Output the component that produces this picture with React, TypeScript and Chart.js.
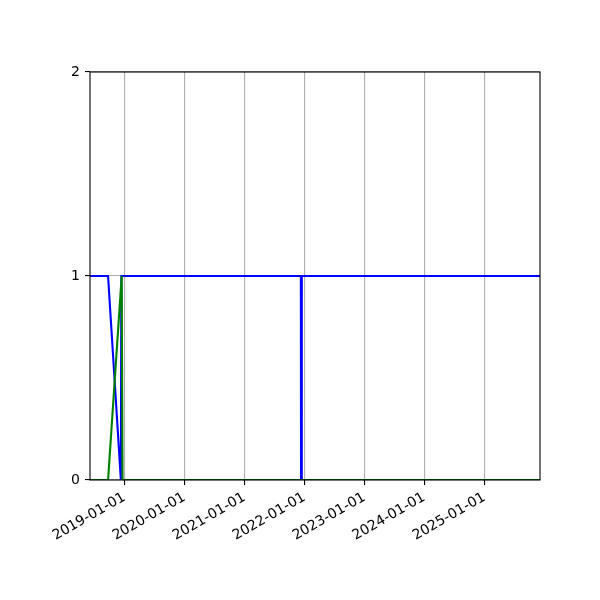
import { useEffect, useRef } from 'react'
import { Chart, registerables } from 'chart.js'
import type { Plugin } from 'chart.js'

Chart.register(...registerables)

const X_MIN = '2018-06-06'
const X_MAX = '2025-12-06'
const TICK_LABELS = ['2019-01-01', '2020-01-01', '2021-01-01', '2022-01-01', '2023-01-01', '2024-01-01', '2025-01-01']
const Y_TICKS = [0, 1, 2]

const BLUE_DATES = ['2018-06-06', '2018-09-24', '2018-12-11', '2018-12-14', '2021-12-11', '2021-12-12', '2021-12-16', '2021-12-17', '2025-12-06']
const BLUE_VALUES = [1, 1, 0, 1, 1, 0, 0, 1, 1]

const GREEN_DATES = ['2018-06-06', '2018-09-24', '2018-12-16', '2018-12-21', '2025-12-06']
const GREEN_VALUES = [0, 0, 1, 0, 0]

const FONT = { family: "'DejaVu Sans', sans-serif", size: 14 }
const GRID = '#b0b0b0'

const toPoints = (dates: string[], values: number[]) =>
  dates.map((d, i) => ({ x: Date.parse(d), y: values[i] }))

const tickValues = TICK_LABELS.map((l) => Date.parse(l))

// matplotlib draws spines over the lines
const frame: Plugin = {
  id: 'frame',
  afterDatasetsDraw(chart) {
    const { ctx, chartArea: a } = chart
    ctx.save()
    ctx.strokeStyle = '#000'
    ctx.lineWidth = 1.1
    ctx.strokeRect(a.left, a.top, a.right - a.left, a.bottom - a.top)
    ctx.restore()
  },
}

function DateChart() {
  const canvasRef = useRef<HTMLCanvasElement>(null)
  const chartRef = useRef<Chart | null>(null)

  useEffect(() => {
    const el = canvasRef.current
    if (!el) return
    try { chartRef.current?.destroy() } catch { /* noop */ }
    chartRef.current = new Chart(el, {
      type: 'line',
      data: {
        datasets: [
          {
            data: toPoints(BLUE_DATES, BLUE_VALUES),
            borderColor: '#0000ff',
            borderWidth: 2.1,
            pointRadius: 0,
            tension: 0,
            order: 1,
          },
          {
            data: toPoints(GREEN_DATES, GREEN_VALUES),
            borderColor: '#008000',
            borderWidth: 2.1,
            pointRadius: 0,
            tension: 0,
            order: 0,
          },
        ],
      },
      options: {
        animation: false,
        responsive: true,
        maintainAspectRatio: false,
        layout: { padding: { top: 72, right: 60, left: 0, bottom: 0 } },
        plugins: { legend: { display: false }, tooltip: { enabled: false } },
        scales: {
          x: {
            type: 'linear',
            min: Date.parse(X_MIN),
            max: Date.parse(X_MAX),
            afterBuildTicks: (s) => { s.ticks = tickValues.map((v) => ({ value: v })) },
            afterFit: (s) => { s.height = 120 },
            grid: { color: GRID, lineWidth: 1.1, tickColor: '#000', tickLength: 5, tickWidth: 1.1 },
            border: { display: false },
            ticks: {
              autoSkip: false,
              minRotation: 30,
              maxRotation: 30,
              padding: 4,
              color: '#000',
              font: FONT,
              callback: (v) => TICK_LABELS[tickValues.indexOf(Number(v))] ?? '',
            },
          },
          y: {
            min: Y_TICKS[0],
            max: Y_TICKS[Y_TICKS.length - 1],
            afterBuildTicks: (s) => { s.ticks = Y_TICKS.map((v) => ({ value: v })) },
            afterFit: (s) => { s.width = 90 },
            grid: { color: GRID, lineWidth: 1.1, tickColor: '#000', tickLength: 5, tickWidth: 1.1 },
            border: { display: false },
            ticks: { padding: 5, color: '#000', font: FONT },
          },
        },
      },
      plugins: [frame],
    })
    return () => { try { chartRef.current?.destroy() } catch { /* noop */ } }
  }, [])

  return <canvas ref={canvasRef} />
}

export default function App() {
  return (
    <div style={{ position: 'fixed', left: 0, top: 0, width: 600, height: 600, background: '#fff' }}>
      <DateChart />
    </div>
  )
}
